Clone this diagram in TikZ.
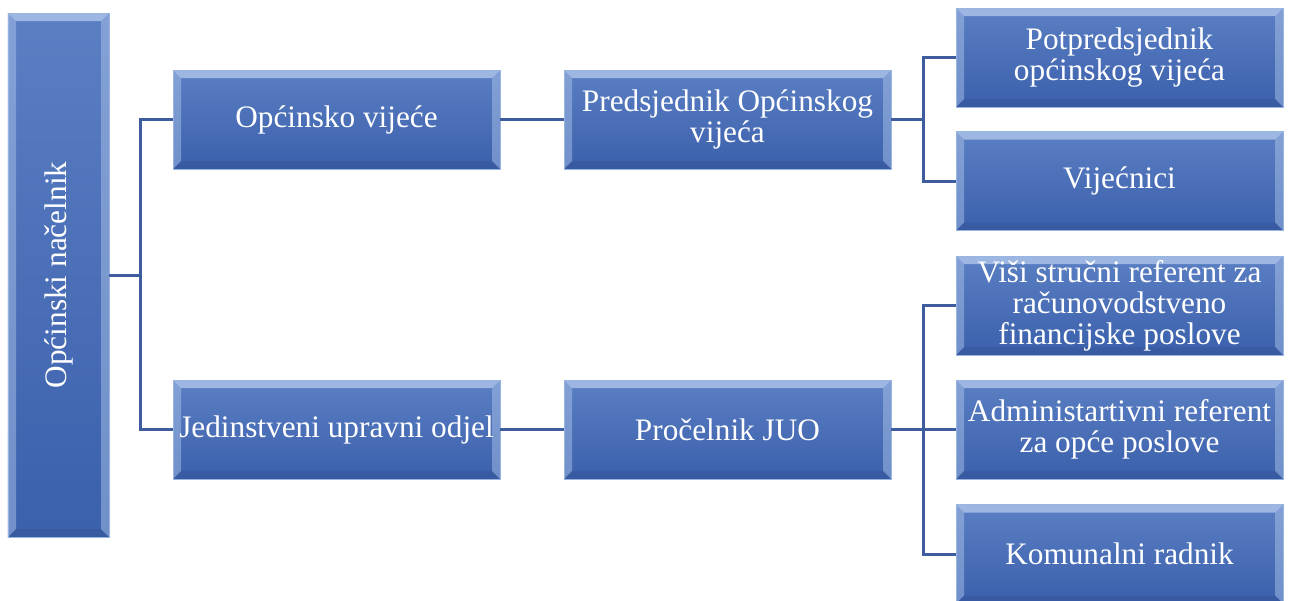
\documentclass[tikz,border=0pt]{standalone}
\usepackage{fontspec}
\usepackage{graphicx}
\setmainfont{Liberation Serif}
\definecolor{boxtop}{HTML}{5B7FC3}
\definecolor{boxbot}{HTML}{3B60AC}
\definecolor{boxlight}{HTML}{B4CBEE}
\definecolor{linkblue}{HTML}{3F5C9E}
\begin{document}
\begin{tikzpicture}

\tikzset{
  orgbox/.style={rectangle, minimum width=6.54cm, minimum height=1.98cm, inner sep=1pt,
    align=center, text=white, font=\fontsize{17.8}{17.6}\selectfont,
    top color=boxtop, bottom color=boxbot, draw=boxlight!70!boxtop, line width=0.5pt,
    path picture={
      \coordinate (nw) at (path picture bounding box.north west);
      \coordinate (ne) at (path picture bounding box.north east);
      \coordinate (sw) at (path picture bounding box.south west);
      \coordinate (se) at (path picture bounding box.south east);
      \fill[boxlight, opacity=.75] (nw)--(ne)--([shift={(-.16,-.16)}]ne)--([shift={(.16,-.16)}]nw)--cycle;
      \fill[boxlight, opacity=.45] (nw)--(sw)--([shift={(.16,.16)}]sw)--([shift={(.16,-.16)}]nw)--cycle;
      \fill[boxlight, opacity=.45] (ne)--(se)--([shift={(-.16,.16)}]se)--([shift={(-.16,-.16)}]ne)--cycle;
      \fill[boxbot!80!black, opacity=.3] (sw)--(se)--([shift={(-.16,.16)}]se)--([shift={(.16,.16)}]sw)--cycle;
    }},
  link/.style={draw=linkblue, line width=1.7pt}
}
\useasboundingbox (0,0) rectangle (25.84,-12);

\node[orgbox, minimum width=2.02cm, minimum height=10.48cm] (nacelnik) at (1.17,-5.5) {\rotatebox{90}{Općinski načelnik}};

\node[orgbox] (vijece) at (6.73,-2.39) {Općinsko vijeće};
\node[orgbox] (predsjednik) at (14.55,-2.39) {Predsjednik Općinskog\\vijeća};
\node[orgbox] (odjel) at (6.73,-8.59) {Jedinstveni upravni odjel};
\node[orgbox] (procelnik) at (14.55,-8.59) {Pročelnik JUO};

\node[orgbox] (potpredsjednik) at (22.39,-1.15) {Potpredsjednik\\općinskog vijeća};
\node[orgbox] (vijecnici) at (22.39,-3.62) {Vijećnici};
\node[orgbox] (referent) at (22.39,-6.11) {Viši stručni referent za\\računovodstveno\\financijske poslove};
\node[orgbox] (admin) at (22.39,-8.59) {Administartivni referent\\za opće poslove};
\node[orgbox] (radnik) at (22.39,-11.08) {Komunalni radnik};

\coordinate (j1) at ([xshift=.62cm]nacelnik.east);
\coordinate (j2) at ([xshift=.64cm]predsjednik.east);
\coordinate (j3) at ([xshift=.64cm]procelnik.east);

\draw[link] (nacelnik.east) -- (j1);
\draw[link] (vijece.west) -| (j1) |- (odjel.west);
\draw[link] (vijece) -- (predsjednik);
\draw[link] (odjel) -- (procelnik);
\draw[link] (predsjednik.east) -- (j2);
\draw[link] (potpredsjednik.west) -| (j2) |- (vijecnici.west);
\draw[link] (procelnik.east) -- (j3);
\draw[link] (referent.west) -| (j3) |- (radnik.west);
\draw[link] (j3) -- (admin.west);

\end{tikzpicture}
\end{document}
